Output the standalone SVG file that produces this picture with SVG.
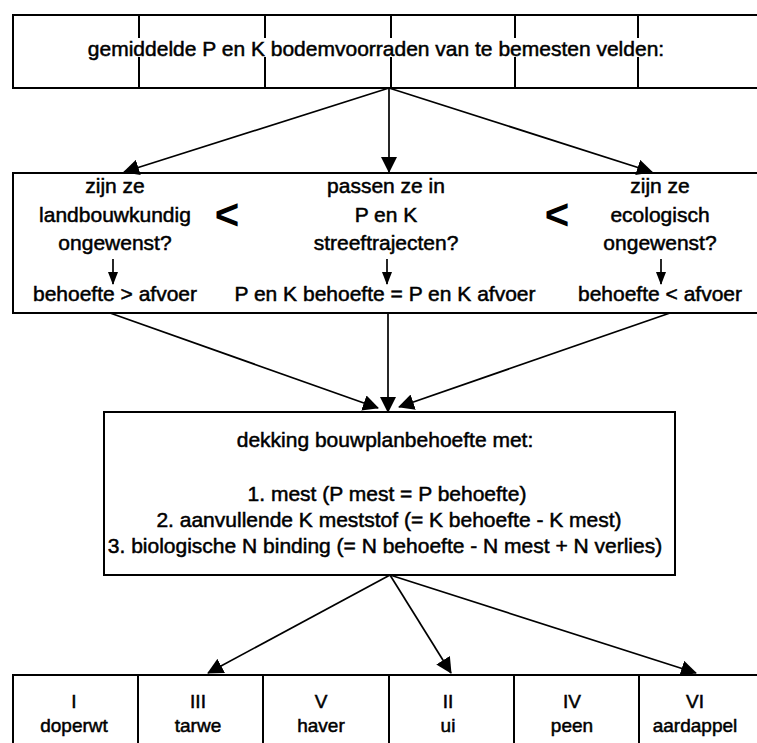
<svg xmlns="http://www.w3.org/2000/svg" width="757" height="743" viewBox="0 0 757 743">
<style>
text{font-family:"Liberation Sans",Arial,sans-serif;font-size:21px;fill:#000;stroke:#000;stroke-width:0.5;text-anchor:middle}
.lt{font-size:42px;font-weight:bold;stroke-width:0}
.tb{font-size:19px}
.box{fill:none;stroke:#000;stroke-width:2}
.con{fill:none;stroke:#000;stroke-width:1.7}
</style>
<defs>
<marker id="ah" viewBox="0 0 16 16" refX="15" refY="8" markerWidth="16" markerHeight="16" markerUnits="userSpaceOnUse" orient="auto"><path d="M0,0 L16,8 L0,16 z" fill="#000"/></marker>
<marker id="ahs" viewBox="0 0 13 10" refX="12" refY="5" markerWidth="13" markerHeight="10" markerUnits="userSpaceOnUse" orient="auto"><path d="M0,0 L13,5 L0,10 z" fill="#000"/></marker>
</defs>
<rect width="757" height="743" fill="#fff"/>
<g id="top">
<path class="box" d="M757,15 H13 V88 H757"/>
<path class="box" d="M139,15 V38 M139,57 V88 M265,15 V38 M265,57 V88 M391,15 V38 M391,57 V88 M515,15 V38 M515,57 V88 M638,15 V38 M638,57 V88"/>
<text x="376" y="56">gemiddelde P en K bodemvoorraden van te bemesten velden:</text>
</g>
<g id="mid">
<path class="box" d="M757,173 H13 V313 H757"/>
<text x="115" y="193">zijn ze</text>
<text x="115" y="222">landbouwkundig</text>
<text x="115" y="250">ongewenst?</text>
<text x="115" y="301">behoefte &gt; afvoer</text>
<text x="386" y="193">passen ze in</text>
<text x="386" y="222">P en K</text>
<text x="386" y="250">streeftrajecten?</text>
<text x="385" y="301">P en K behoefte = P en K afvoer</text>
<text x="660" y="193">zijn ze</text>
<text x="660" y="222">ecologisch</text>
<text x="660" y="250">ongewenst?</text>
<text x="660" y="301">behoefte &lt; afvoer</text>
<text class="lt" x="227" y="229">&lt;</text>
<text class="lt" x="557" y="229">&lt;</text>
<line class="con" x1="113" y1="259" x2="113" y2="284" marker-end="url(#ahs)"/>
<line class="con" x1="387" y1="259" x2="387" y2="284" marker-end="url(#ahs)"/>
<line class="con" x1="661" y1="259" x2="661" y2="284" marker-end="url(#ahs)"/>
</g>
<g id="cover">
<rect class="box" x="104" y="412" width="571" height="163"/>
<text x="385" y="447">dekking bouwplanbehoefte met:</text>
<text x="387" y="501">1. mest (P mest = P behoefte)</text>
<text x="389" y="527">2. aanvullende K meststof (= K behoefte - K mest)</text>
<text x="385" y="553">3. biologische N binding (= N behoefte - N mest + N verlies)</text>
</g>
<g id="crops">
<path class="box" d="M757,675 H13 V743 M138,675 V743 M263,675 V743 M389,675 V743 M514,675 V743 M639,675 V743"/>
<text class="tb" x="74" y="708">I</text><text class="tb" x="74" y="732">doperwt</text>
<text class="tb" x="198" y="708">III</text><text class="tb" x="198" y="732">tarwe</text>
<text class="tb" x="321" y="708">V</text><text class="tb" x="321" y="732">haver</text>
<text class="tb" x="448" y="708">II</text><text class="tb" x="448" y="732">ui</text>
<text class="tb" x="572" y="708">IV</text><text class="tb" x="572" y="732">peen</text>
<text class="tb" x="695" y="708">VI</text><text class="tb" x="695" y="732">aardappel</text>
</g>
<g id="connectors">
<line class="con" x1="389" y1="88" x2="124" y2="172" marker-end="url(#ah)"/>
<line class="con" x1="389" y1="88" x2="389" y2="172" marker-end="url(#ah)"/>
<line class="con" x1="389" y1="88" x2="652" y2="172" marker-end="url(#ah)"/>
<line class="con" x1="110" y1="313" x2="378" y2="408" marker-end="url(#ah)"/>
<line class="con" x1="388" y1="313" x2="388" y2="412" marker-end="url(#ah)"/>
<line class="con" x1="670" y1="313" x2="399" y2="407" marker-end="url(#ah)"/>
<line class="con" x1="390" y1="575" x2="208" y2="673" marker-end="url(#ah)"/>
<line class="con" x1="390" y1="575" x2="451" y2="673" marker-end="url(#ah)"/>
<line class="con" x1="390" y1="575" x2="696" y2="673" marker-end="url(#ah)"/>
</g>
</svg>
